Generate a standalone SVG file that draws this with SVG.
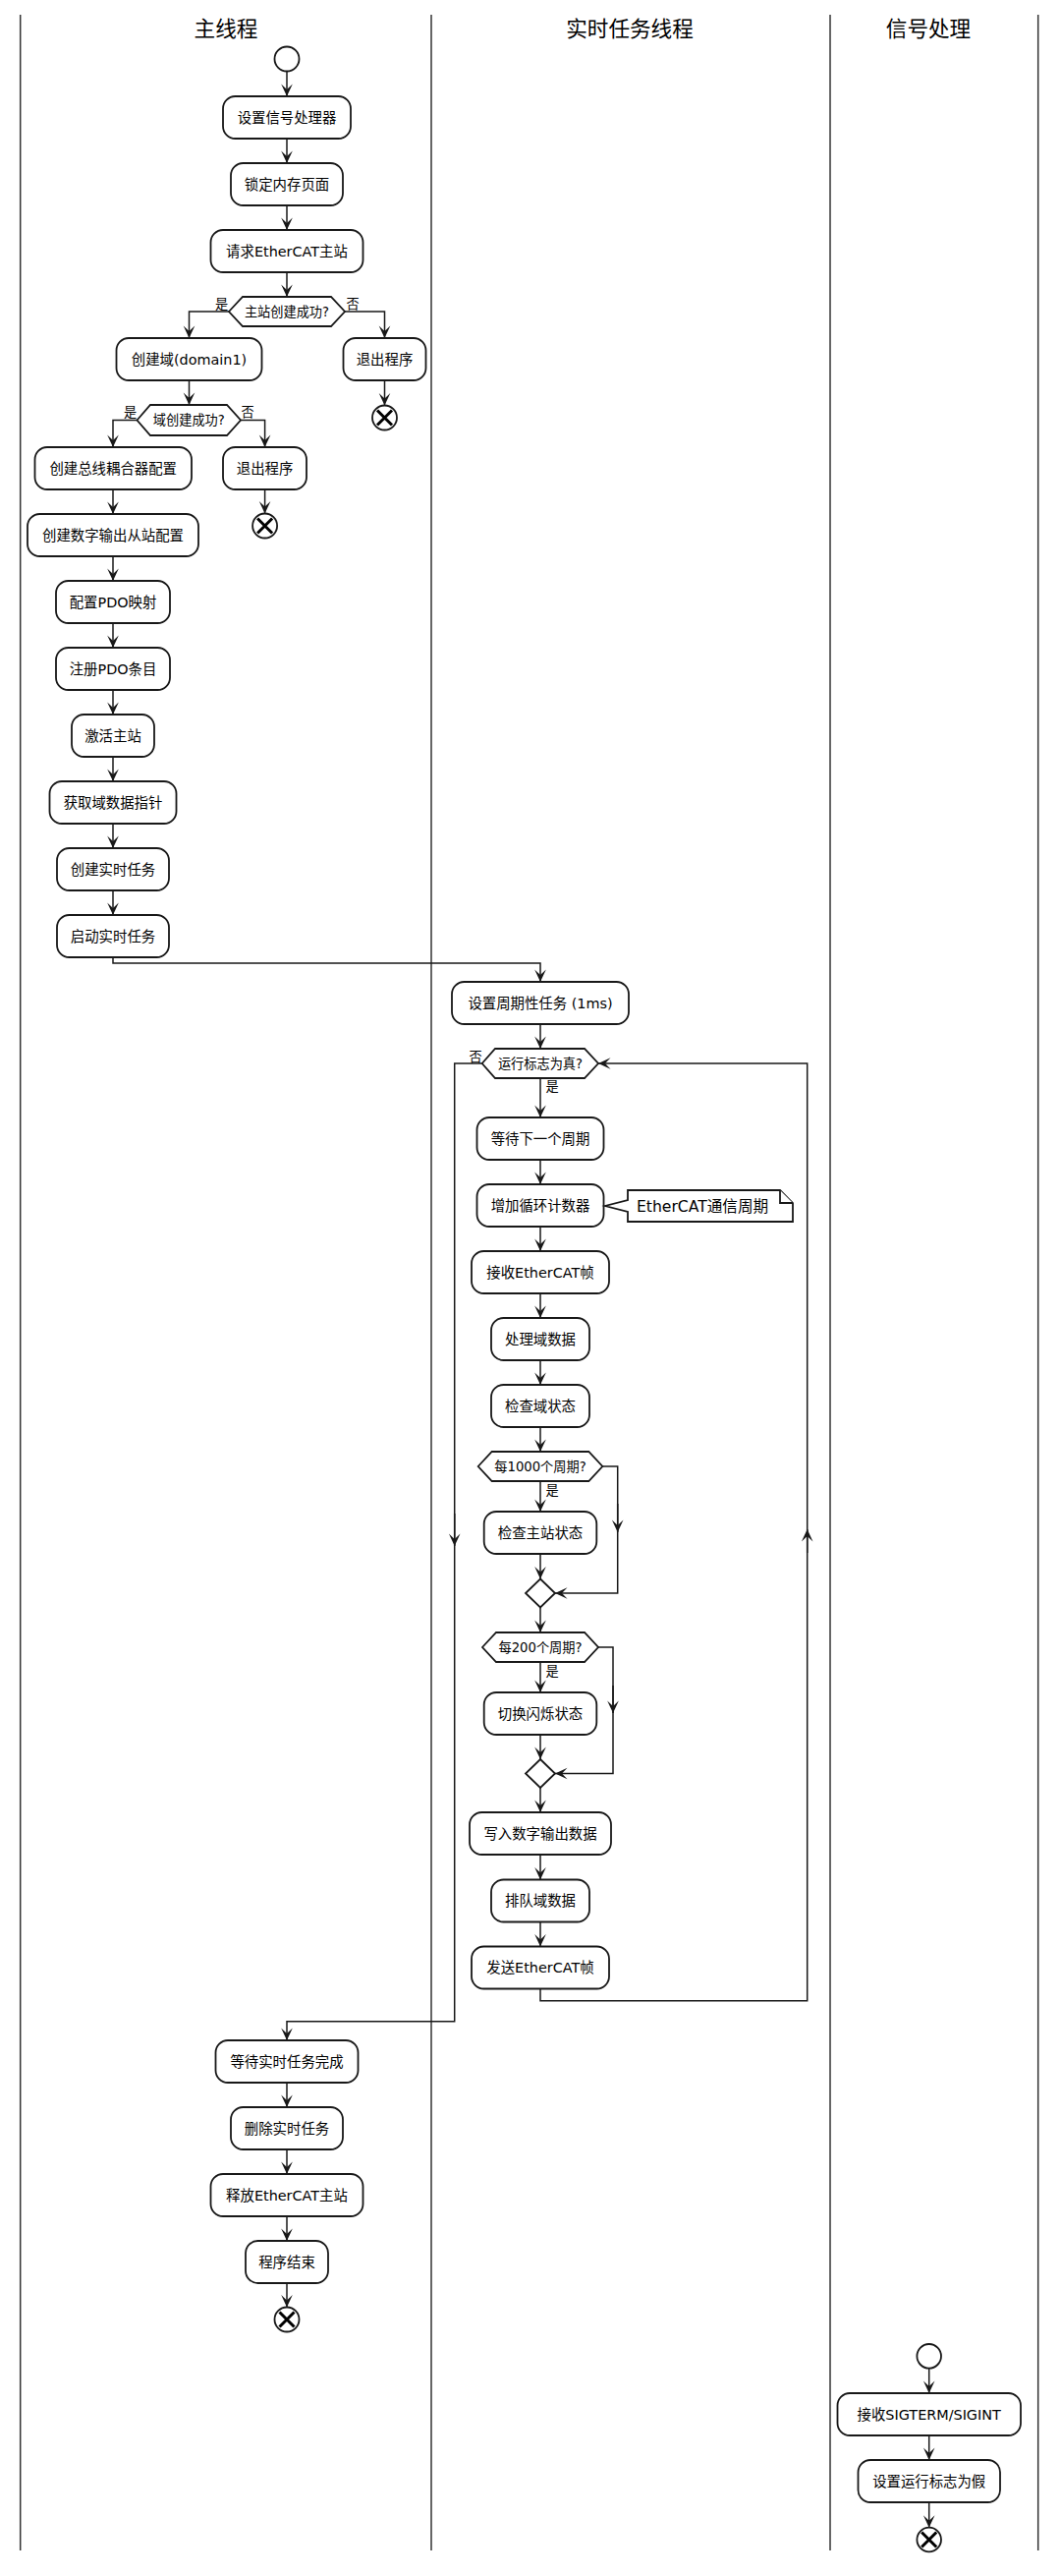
<svg xmlns="http://www.w3.org/2000/svg" width="1080" height="2621" viewBox="0 0 1080 2621">
<style>
text{font-family:"DejaVu Sans","Noto Sans CJK SC",sans-serif;fill:#000}
.t{font-size:14.4px;text-anchor:middle}
.h{font-size:13.2px;text-anchor:middle}
.l{font-size:13.2px;text-anchor:middle}
.n{font-size:15.6px}
.title{font-size:21.6px;text-anchor:middle}
.box{fill:#fff;stroke:#181818;stroke-width:1.8}
.lane{stroke:#333;stroke-width:1.5;fill:none}
.c{fill:none;stroke:#181818;stroke-width:1.5}
.x{stroke:#000;stroke-width:3;stroke-linecap:butt}
</style>
<defs>
<marker id="a" viewBox="-13 -7 14 14" refX="0" refY="0" markerWidth="14" markerHeight="14" markerUnits="userSpaceOnUse" orient="auto" overflow="visible">
<path d="M0,0 L-12.5,-5.8 L-7,0 L-12.5,5.8 Z" fill="#181818"/>
</marker>
</defs>
<rect width="1080" height="2621" fill="#fff"/>
<g id="lanes">
<line class="lane" x1="20.7" y1="15" x2="20.7" y2="2595"/>
<line class="lane" x1="439" y1="15" x2="439" y2="2595"/>
<line class="lane" x1="845" y1="15" x2="845" y2="2595"/>
<line class="lane" x1="1056.7" y1="15" x2="1056.7" y2="2595"/>
<text class="title" x="230" y="37">主线程</text>
<text class="title" x="641" y="37">实时任务线程</text>
<text class="title" x="945" y="37">信号处理</text>
</g>
<g id="connectors" marker-end="url(#a)">
<path class="c" d="M292,72.5V98"/>
<path class="c" d="M292,141V166"/>
<path class="c" d="M292,209V234"/>
<path class="c" d="M292,277V302"/>
<path class="c" d="M233,317H192.5V344"/>
<path class="c" d="M351,317H391.5V344"/>
<path class="c" d="M391.5,387V412.5"/>
<path class="c" d="M192.5,387V412"/>
<path class="c" d="M139.5,427.5H115V455"/>
<path class="c" d="M245,427.5H269.6V455"/>
<path class="c" d="M269.6,498V522.5"/>
<path class="c" d="M115,498V523"/>
<path class="c" d="M115,566V591"/>
<path class="c" d="M115,634V659"/>
<path class="c" d="M115,702V727"/>
<path class="c" d="M115,770V795"/>
<path class="c" d="M115,838V863"/>
<path class="c" d="M115,906V931"/>
<path class="c" d="M115,974V980H550V999"/>
<path class="c" d="M550,1042V1067"/>
<path class="c" d="M550,1097V1137"/>
<path class="c" d="M550,1180V1205"/>
<path class="c" d="M550,1248V1273"/>
<path class="c" d="M550,1316V1341"/>
<path class="c" d="M550,1384V1409"/>
<path class="c" d="M550,1452V1477"/>
<path class="c" d="M550,1507V1538"/>
<path class="c" d="M550,1581V1606.5"/>
<path class="c" d="M613.3,1492H628.7V1621H565"/>
<path class="c" d="M628.7,1530V1559"/>
<path class="c" d="M550,1635.5V1661"/>
<path class="c" d="M550,1691V1722"/>
<path class="c" d="M550,1765V1790"/>
<path class="c" d="M609,1676H624V1804.5H565"/>
<path class="c" d="M624,1715V1743"/>
<path class="c" d="M550,1819V1844"/>
<path class="c" d="M550,1887V1912.5"/>
<path class="c" d="M550,1955.5V1980.5"/>
<path class="c" d="M550,2023.5V2035.7H821.7V1082H609"/>
<path class="c" d="M821.7,1580V1556"/>
<path class="c" d="M490.7,1082H462.7V2056.7H292V2076"/>
<path class="c" d="M462.7,1540V1573"/>
<path class="c" d="M292,2119V2144"/>
<path class="c" d="M292,2187V2212"/>
<path class="c" d="M292,2255V2280"/>
<path class="c" d="M292,2323V2347.5"/>
<path class="c" d="M945.7,2409.6V2435"/>
<path class="c" d="M945.7,2478V2503"/>
<path class="c" d="M945.7,2546V2571.7"/>
</g>
<g id="labels">
<text class="l" x="225.5" y="314">是</text>
<text class="l" x="359" y="314">否</text>
<text class="l" x="132.6" y="424">是</text>
<text class="l" x="252" y="424">否</text>
<text class="l" x="484" y="1080">否</text>
<text class="l" x="562" y="1110">是</text>
<text class="l" x="562" y="1521">是</text>
<text class="l" x="562" y="1705">是</text>
</g>
<g id="start1"><circle cx="292" cy="60" r="12.5" fill="#fff" stroke="#181818" stroke-width="1.8"/></g>
<g id="n1"><rect class="box" x="227" y="98" width="130" height="43" rx="12.5"/><text class="t" x="292" y="124.5">设置信号处理器</text></g>
<g id="n2"><rect class="box" x="235" y="166" width="114" height="43" rx="12.5"/><text class="t" x="292" y="192.5">锁定内存页面</text></g>
<g id="n3"><rect class="box" x="214.5" y="234" width="155" height="43" rx="12.5"/><text class="t" x="292" y="260.5">请求EtherCAT主站</text></g>
<g id="d1"><polygon class="box" points="233,317 247,302 337,302 351,317 337,332 247,332"/><text class="h" x="292" y="321.7">主站创建成功?</text></g>
<g id="n4"><rect class="box" x="118.5" y="344" width="148" height="43" rx="12.5"/><text class="t" x="192.5" y="370.5">创建域(domain1)</text></g>
<g id="n5"><rect class="box" x="349.5" y="344" width="84" height="43" rx="12.5"/><text class="t" x="391.5" y="370.5">退出程序</text></g>
<g id="end1"><circle cx="391.5" cy="425" r="12.5" fill="#fff" stroke="#181818" stroke-width="1.8"/><path class="x" d="M384,417.5L399,432.5M399,417.5L384,432.5"/></g>
<g id="d2"><polygon class="box" points="139.5,427.5 153,412 231,412 245,427.5 231,443 153,443"/><text class="h" x="192.3" y="432.2">域创建成功?</text></g>
<g id="n6"><rect class="box" x="35.5" y="455" width="159.5" height="43" rx="12.5"/><text class="t" x="115.2" y="481.5">创建总线耦合器配置</text></g>
<g id="n7"><rect class="box" x="227" y="455" width="85" height="43" rx="12.5"/><text class="t" x="269.6" y="481.5">退出程序</text></g>
<g id="end2"><circle cx="269.6" cy="535" r="12.5" fill="#fff" stroke="#181818" stroke-width="1.8"/><path class="x" d="M262.1,527.5L277.1,542.5M277.1,527.5L262.1,542.5"/></g>
<g id="n8"><rect class="box" x="28" y="523" width="174" height="43" rx="12.5"/><text class="t" x="115" y="549.5">创建数字输出从站配置</text></g>
<g id="n9"><rect class="box" x="57" y="591" width="116" height="43" rx="12.5"/><text class="t" x="115" y="617.5">配置PDO映射</text></g>
<g id="n10"><rect class="box" x="57" y="659" width="116" height="43" rx="12.5"/><text class="t" x="115" y="685.5">注册PDO条目</text></g>
<g id="n11"><rect class="box" x="73" y="727" width="84" height="43" rx="12.5"/><text class="t" x="115" y="753.5">激活主站</text></g>
<g id="n12"><rect class="box" x="50.5" y="795" width="129" height="43" rx="12.5"/><text class="t" x="115" y="821.5">获取域数据指针</text></g>
<g id="n13"><rect class="box" x="58" y="863" width="114" height="43" rx="12.5"/><text class="t" x="115" y="889.5">创建实时任务</text></g>
<g id="n14"><rect class="box" x="58" y="931" width="114" height="43" rx="12.5"/><text class="t" x="115" y="957.5">启动实时任务</text></g>
<g id="r1"><rect class="box" x="460" y="999" width="180" height="43" rx="12.5"/><text class="t" x="550" y="1025.5">设置周期性任务 (1ms)</text></g>
<g id="rd1"><polygon class="box" points="490.7,1082 504,1067 595,1067 609,1082 595,1097 504,1097"/><text class="h" x="550" y="1086.7">运行标志为真?</text></g>
<g id="r2"><rect class="box" x="485.5" y="1137" width="129" height="43" rx="12.5"/><text class="t" x="550" y="1163.5">等待下一个周期</text></g>
<g id="r3"><rect class="box" x="485.5" y="1205" width="129" height="43" rx="12.5"/><text class="t" x="550" y="1231.5">增加循环计数器</text></g>
<g id="note1"><path class="box" d="M639,1211H794L807,1224V1243H639V1233L616,1227L639,1221Z"/><path class="box" fill="none" d="M794,1211V1224H807"/><text class="n" x="648" y="1232.5">EtherCAT通信周期</text></g>
<g id="r4"><rect class="box" x="480" y="1273" width="140" height="43" rx="12.5"/><text class="t" x="550" y="1299.5">接收EtherCAT帧</text></g>
<g id="r5"><rect class="box" x="500" y="1341" width="100" height="43" rx="12.5"/><text class="t" x="550" y="1367.5">处理域数据</text></g>
<g id="r6"><rect class="box" x="500" y="1409" width="100" height="43" rx="12.5"/><text class="t" x="550" y="1435.5">检查域状态</text></g>
<g id="rd2"><polygon class="box" points="486.7,1492 500.7,1477 599.3,1477 613.3,1492 599.3,1507 500.7,1507"/><text class="h" x="550" y="1496.7">每1000个周期?</text></g>
<g id="r7"><rect class="box" x="492.7" y="1538" width="114.6" height="43" rx="12.5"/><text class="t" x="550" y="1564.5">检查主站状态</text></g>
<g id="m1"><polygon class="box" points="550,1606.5 565,1621 550,1635.5 535,1621"/></g>
<g id="rd3"><polygon class="box" points="491,1676 505,1661 595,1661 609,1676 595,1691 505,1691"/><text class="h" x="550" y="1680.7">每200个周期?</text></g>
<g id="r8"><rect class="box" x="492.7" y="1722" width="114.6" height="43" rx="12.5"/><text class="t" x="550" y="1748.5">切换闪烁状态</text></g>
<g id="m2"><polygon class="box" points="550,1790 565,1804.5 550,1819 535,1804.5"/></g>
<g id="r9"><rect class="box" x="478" y="1844" width="144" height="43" rx="12.5"/><text class="t" x="550" y="1870.5">写入数字输出数据</text></g>
<g id="r10"><rect class="box" x="500" y="1912.5" width="100" height="43" rx="12.5"/><text class="t" x="550" y="1939">排队域数据</text></g>
<g id="r11"><rect class="box" x="480" y="1980.5" width="140" height="43" rx="12.5"/><text class="t" x="550" y="2007">发送EtherCAT帧</text></g>
<g id="n15"><rect class="box" x="219.5" y="2076" width="145" height="43" rx="12.5"/><text class="t" x="292" y="2102.5">等待实时任务完成</text></g>
<g id="n16"><rect class="box" x="235" y="2144" width="114" height="43" rx="12.5"/><text class="t" x="292" y="2170.5">删除实时任务</text></g>
<g id="n17"><rect class="box" x="214.5" y="2212" width="155" height="43" rx="12.5"/><text class="t" x="292" y="2238.5">释放EtherCAT主站</text></g>
<g id="n18"><rect class="box" x="250" y="2280" width="84" height="43" rx="12.5"/><text class="t" x="292" y="2306.5">程序结束</text></g>
<g id="end3"><circle cx="292" cy="2360" r="12.5" fill="#fff" stroke="#181818" stroke-width="1.8"/><path class="x" d="M284.5,2352.5L299.5,2367.5M299.5,2352.5L284.5,2367.5"/></g>
<g id="start2"><circle cx="945.7" cy="2397.3" r="12.3" fill="#fff" stroke="#181818" stroke-width="1.8"/></g>
<g id="s1"><rect class="box" x="852.5" y="2435" width="186.5" height="43" rx="12.5"/><text class="t" x="945.7" y="2461.5">接收SIGTERM/SIGINT</text></g>
<g id="s2"><rect class="box" x="873.5" y="2503" width="144.5" height="43" rx="12.5"/><text class="t" x="945.7" y="2529.5">设置运行标志为假</text></g>
<g id="end4"><circle cx="945.7" cy="2584" r="12.3" fill="#fff" stroke="#181818" stroke-width="1.8"/><path class="x" d="M938.2,2576.5L953.2,2591.5M953.2,2576.5L938.2,2591.5"/></g>
</svg>
